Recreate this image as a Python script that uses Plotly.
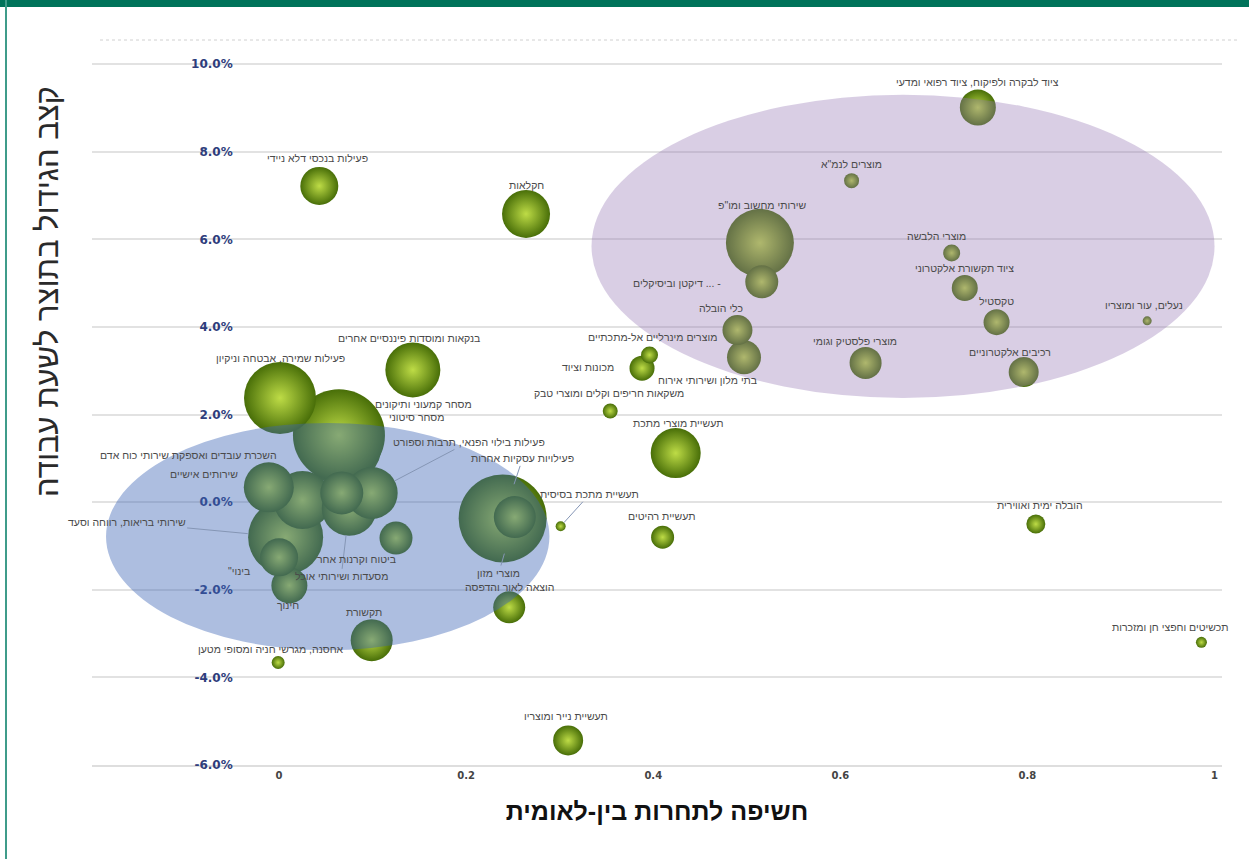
import plotly.graph_objects as go

# ---------------- data ----------------
sectors = [
    "פעילויות עסקיות אחרות", "מסחר סיטוני", "מסחר קמעוני ותיקונים", "שירותי בריאות, רווחה וסעד",
    "פעילות שמירה, אבטחה וניקיון", 'שירותי מחשוב ומו"פ', "שירותים אישיים",
    "בנקאות ומוסדות פיננסיים אחרים", "מסעדות ושירותי אוכל", "פעילות בילוי הפנאי, תרבות וספורט",
    "השכרת עובדים ואספקת שירותי כוח אדם", "תעשיית מוצרי מתכת", "חקלאות", "",
    "תקשורת", "מוצרי מזון", "חינוך", '"בינוי', "פעילות בנכסי דלא ניידי",
    "ציוד לבקרה ולפיקוח, ציוד רפואי ומדעי", "בתי מלון ושירותי אירוח", "דיקטן וביסיקלים ... -",
    "ביטוח וקרנות אחר", "מוצרי פלסטיק וגומי", "הוצאה לאור והדפסה", "כלי הובלה",
    "רכיבים אלקטרוניים", "תעשיית נייר ומוצריו", "ציוד תקשורת אלקטרוני", "טקסטיל",
    "מכונות וציוד", "תעשיית רהיטים", "הובלה ימית ואווירית", "מוצרי הלבשה",
    "מוצרים מינרליים אל-מתכתיים", 'מוצרים לנמ"א', "משקאות חריפים וקלים ומוצרי טבק",
    "אחסנה, מגרשי חניה ומסופי מטען", "תכשיטים וחפצי חן ומזכרות", "תעשיית מתכת בסיסית",
    "נעלים, עור ומוצריו",
]
exposure = [
    0.239, 0.067, 0.064, 0.007, 0.001, 0.514, 0.025,
    0.143, 0.075, 0.099, -0.011, 0.424, 0.264, 0.067,
    0.099, 0.252, 0.011, 0.000, 0.043, 0.747, 0.497, 0.516,
    0.125, 0.627, 0.246, 0.490, 0.796, 0.309, 0.733, 0.767,
    0.388, 0.410, 0.809, 0.719, 0.396, 0.612, 0.354,
    -0.001, 0.986, 0.301, 0.928,
]
growth_pct = [
    -0.37, 1.30, 1.53, -0.80, 2.38, 5.92, 0.05,
    3.02, -0.14, 0.21, 0.34, 1.12, 6.58, 0.21,
    -3.15, -0.34, -1.90, -1.26, 7.22, 9.01, 3.31, 5.03,
    -0.82, 3.18, -2.40, 3.93, 2.97, -5.44, 4.89, 4.11,
    3.06, -0.80, -0.50, 5.69, 3.36, 7.34, 2.08,
    -3.66, -3.20, -0.55, 4.14,
]
bubble_size = [
    88, 80, 92, 75, 72, 68, 58,
    55, 55, 52, 50, 50, 48, 43,
    42, 42, 36, 38, 38, 36, 34, 33,
    33, 32, 32, 30, 30, 30, 26, 26,
    25, 23, 19, 17, 17, 15, 15,
    13, 11, 10, 9,
]

# label placement (pixel offsets of the label from its bubble) and leader lines
label_dx = [
    20, 75, 85, -159, 0, 2, -98,
    -4, -8, 97, -80, 2, 0, 0,
    -8, -16, -1, -40, -2, 0, -37, -85,
    -40, -11, 0, -16, -14, -2, 0, 0,
    -54, -1, 4, -15, 3, 0, -1,
    -7, -31, 29, -3,
]
label_dy = [
    -60, -28, -31, -15, -40, -38, -26,
    -32, 68, -51, -32, -30, -29, 0,
    -28, 56, 20, 14, -28, -26, 23, 1,
    21, -22, -20, -22, -20, -24, -20, -21,
    -1, -21, -19, -17, -18, -17, -18,
    -14, -15, -32, -16,
]
leader_standoff = [
    36, 0, 0, 38, 0, 0, 0,
    0, 27, 26, 0, 0, 0, 0,
    0, 38, 0, 0, 0, 0, 0, 0,
    0, 0, 0, 0, 0, 0, 0, 0,
    0, 0, 0, 0, 0, 0, 0,
    0, 0, 5, 0,
]

y_ticks = [-6, -4, -2, 0, 2, 4, 6, 8, 10]
x_ticks = [0, 0.2, 0.4, 0.6, 0.8, 1]

# highlighted groups (ellipses): [x0, x1, y0, y1]
cluster_blue = [-0.185, 0.289, -3.38, 1.81]
cluster_purple = [0.334, 1.000, 2.38, 9.30]

# ---------------- figure ----------------
W, H = 1249, 859
ML, MR, MT, MB = 92, 27, 51, 94
PW, PH = W - ML - MR, H - MT - MB

fig = go.Figure()
fig.add_trace(go.Scatter(
    x=exposure, y=growth_pct, mode="markers",
    marker=dict(size=bubble_size, sizemode="diameter",
                color="rgb(72,110,8)",
                gradient=dict(type="radial", color="rgb(190,220,70)"),
                line=dict(width=0), opacity=1),
    hoverinfo="skip", showlegend=False,
))

HEB = "Liberation Sans, DejaVu Sans, sans-serif"
annotations = []
for name, xv, yv, dx, dy, so in zip(sectors, exposure, growth_pct, label_dx, label_dy, leader_standoff):
    if not name:
        continue
    if so > 0:
        annotations.append(dict(
            x=xv, y=yv, xref="x", yref="y", text=name, showarrow=True,
            ax=dx, ay=dy, arrowhead=0, arrowwidth=1, arrowcolor="#8596b5",
            standoff=so, font=dict(family=HEB, size=10.5, color="#4a4a4a")))
    else:
        annotations.append(dict(
            x=xv, y=yv, xref="x", yref="y", text=name, showarrow=False,
            xshift=dx, yshift=-dy, font=dict(family=HEB, size=10.5, color="#4a4a4a")))

# y-axis title
annotations.append(dict(
    x=(47 - ML) / PW, y=(H - MB - 292) / PH, xref="paper", yref="paper",
    xanchor="center", yanchor="middle",
    text="קצב הגידול בתוצר לשעת עבודה",
    textangle=-90, showarrow=False, font=dict(family=HEB, size=31, color="#2a2a2a")))

shapes = [
    dict(type="circle", xref="x", yref="y",
         x0=cluster_purple[0], x1=cluster_purple[1], y0=cluster_purple[2], y1=cluster_purple[3],
         fillcolor="rgb(150,120,180)", opacity=0.36, line=dict(width=0), layer="above"),
    dict(type="circle", xref="x", yref="y",
         x0=cluster_blue[0], x1=cluster_blue[1], y0=cluster_blue[2], y1=cluster_blue[3],
         fillcolor="rgb(60,100,180)", opacity=0.42, line=dict(width=0), layer="above"),
    # frame decoration: top green bar and left border line
    dict(type="rect", xref="paper", yref="paper",
         x0=-ML / PW, x1=(W - ML) / PW,
         y0=(H - MB - 7) / PH, y1=(H - MB + 2) / PH,
         fillcolor="#00735a", line=dict(width=0), layer="above"),
    dict(type="line", xref="paper", yref="paper",
         x0=(6 - ML) / PW, x1=(6 - ML) / PW,
         y0=-MB / PH, y1=(H - MB) / PH,
         line=dict(color="#3f9c8a", width=2)),
    # dotted top border of chart area
    dict(type="line", xref="paper", yref="paper",
         x0=(100 - ML) / PW, x1=(1240 - ML) / PW, y0=(H - MB - 40) / PH, y1=(H - MB - 40) / PH,
         line=dict(color="#d0d0d0", width=1, dash="dot")),
]

fig.update_layout(
    width=W, height=H,
    margin=dict(l=ML, r=MR, t=MT, b=MB),
    paper_bgcolor="white", plot_bgcolor="white",
    showlegend=False, hovermode=False,
    xaxis=dict(range=[-0.2, 1.008], tickvals=x_ticks, ticktext=[f"{v:g}" for v in x_ticks],
               showgrid=False, zeroline=False, showline=True, linecolor="#dedede", linewidth=2,
               tickfont=dict(family="DejaVu Sans", size=10, color="#444444", weight="bold"),
               title=dict(text="<b>חשיפה לתחרות בין-לאומית</b>", standoff=22,
                          font=dict(family=HEB, size=25, color="#111111"))),
    yaxis=dict(range=[-6, 10.3], tickvals=y_ticks, ticktext=[f"{v:.1f}%" for v in y_ticks],
               showgrid=True, gridcolor="#e2e2e2", gridwidth=2, zeroline=False,
               showline=False, anchor="free", position=0.1245,
               tickfont=dict(family="DejaVu Sans", size=12, color="#2e3d7c", weight="bold")),
    shapes=shapes, annotations=annotations,
)

fig.write_html("out.html", config={"displayModeBar": False},
               post_script="document.body.style.margin='0px';")
